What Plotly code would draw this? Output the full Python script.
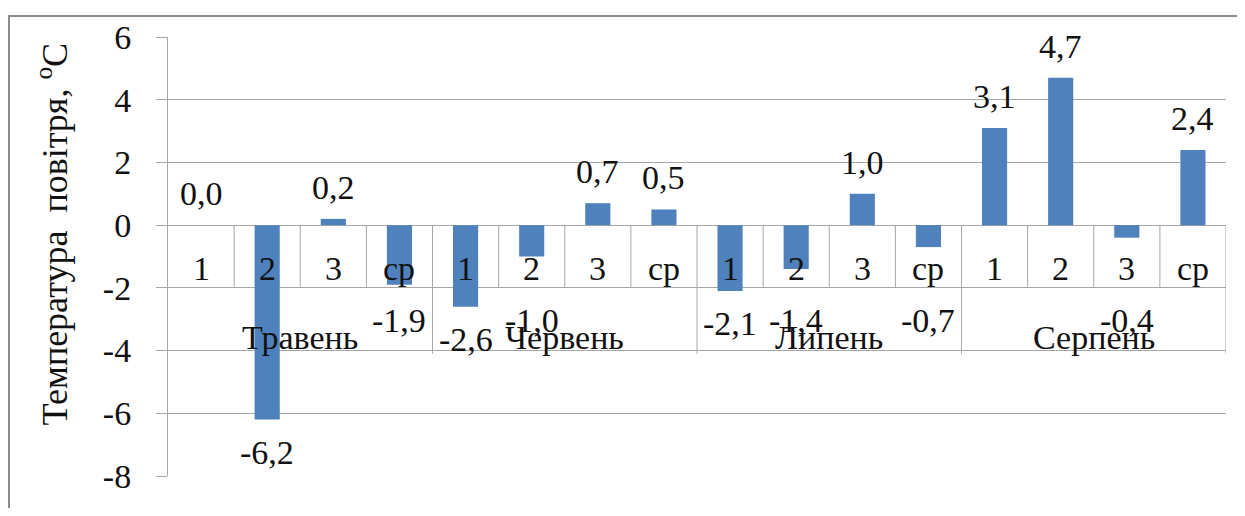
import plotly.graph_objects as go

months = ["Травень", "Червень", "Липень", "Серпень"]
decades = ["1", "2", "3", "ср"]
values = [0.0, -6.2, 0.2, -1.9,
          -2.6, -1.0, 0.7, 0.5,
          -2.1, -1.4, 1.0, -0.7,
          3.1, 4.7, -0.4, 2.4]
y_ticks = [-8, -6, -4, -2, 0, 2, 4, 6]
y_title = "Температура  повітря, <sup>o</sup>C"

FONT = "'Liberation Serif', 'Times New Roman', Tinos, 'DejaVu Serif', 'Noto Serif', serif"
TXT = "#111111"
GRID = "#a6a6a6"
BAR = "#4F81BD"
FS = 34

n = len(values)
xs = list(range(n))
per = len(decades)
inner_row_bottom = -2.0   # bottom of the inner category-label row (data units)

fig = go.Figure()
fig.add_trace(go.Bar(x=xs, y=values, width=0.38, marker=dict(color=BAR, line=dict(width=0)),
                     hoverinfo="skip"))

annotations = []
# data labels (negative labels kept below the inner label row, as in the source)
for x, v in zip(xs, values):
    txt = f"{v:.1f}".replace(".", ",")
    if v >= 0:
        annotations.append(dict(x=x, y=v, xref="x", yref="y", text=txt, showarrow=False,
                                yanchor="bottom", yshift=11,
                                font=dict(family=FONT, size=FS, color=TXT)))
    else:
        annotations.append(dict(x=x, y=min(v, inner_row_bottom), xref="x", yref="y", text=txt,
                                showarrow=False, yanchor="top", yshift=-12,
                                font=dict(family=FONT, size=FS, color=TXT)))

# inner category labels
shapes = []
for i in range(n):
    annotations.append(dict(x=i, y=-1.38, xref="x", yref="y", text=decades[i % per], showarrow=False,
                            yanchor="middle", font=dict(family=FONT, size=FS, color=TXT)))
for i in range(1, n + 1):
    bx = i - 0.5
    y1 = -4.1 if i % per == 0 else inner_row_bottom
    shapes.append(dict(type="line", xref="x", yref="y", x0=bx, x1=bx, y0=0, y1=y1,
                       line=dict(color=GRID, width=1)))
# month labels
for m, name in enumerate(months):
    annotations.append(dict(x=m * per + (per - 1) / 2, y=-3.57, xref="x", yref="y", text=name,
                            showarrow=False, yanchor="middle",
                            font=dict(family=FONT, size=FS, color=TXT)))

# y-axis title
annotations.append(dict(x=0, y=0.5, xref="paper", yref="paper", xshift=-116, yshift=22,
                        text=y_title, textangle=-90, showarrow=False,
                        xanchor="center", yanchor="middle",
                        font=dict(family=FONT, size=36, color=TXT)))

# outer chart border
shapes.append(dict(type="rect", xref="paper", yref="paper", x0=-0.1503, x1=1.05, y0=-0.2, y1=1.0476,
                   line=dict(color="#8c8c8c", width=2), layer="below"))

fig.update_layout(
    width=1229, height=500,
    margin=dict(l=160, r=11, t=27, b=32),
    paper_bgcolor="white", plot_bgcolor="white",
    showlegend=False,
    font=dict(family=FONT),
    annotations=annotations,
    shapes=shapes,
    xaxis=dict(range=[-0.5, n - 0.5], showticklabels=False, showgrid=False, zeroline=False,
               ticks="", showline=False, fixedrange=True),
    yaxis=dict(range=[-8, 6], tickvals=y_ticks, ticktext=[str(t) for t in y_ticks],
               showgrid=True, gridcolor=GRID, gridwidth=1,
               zeroline=True, zerolinecolor=GRID, zerolinewidth=1,
               showline=True, linecolor=GRID, linewidth=1,
               ticks="outside", ticklen=11, tickcolor=GRID, ticklabelstandoff=18,
               tickfont=dict(family=FONT, size=FS, color=TXT), fixedrange=True),
)

fig.write_html("out.html")
